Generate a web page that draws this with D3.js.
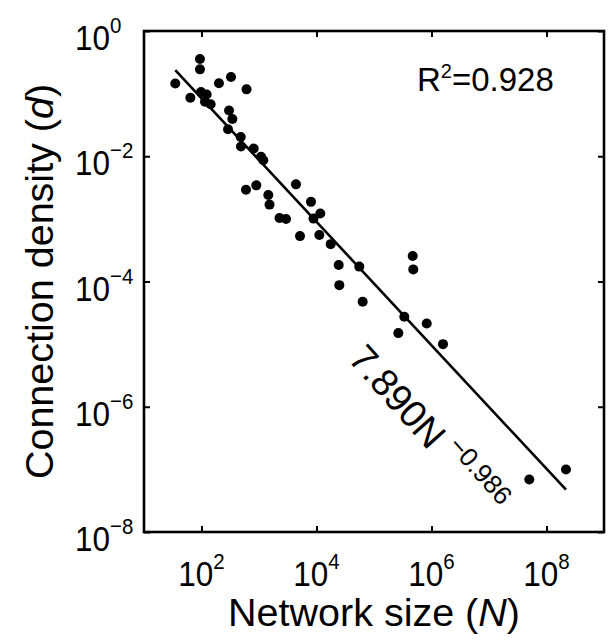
<!DOCTYPE html>
<html><head><meta charset="utf-8">
<script src="https://cdn.jsdelivr.net/npm/d3@7"></script>
<style>
body{margin:0;background:#fff;}
text{font-family:"Liberation Sans",Arial,Helvetica,sans-serif;fill:#000;}
</style>
</head><body>
<svg id="chart" width="608" height="640"></svg>
<script>
// ---- data ----
const networkSize = [35, 64, 94, 94, 98, 115, 123, 144, 201, 326, 607, 301, 344, 289, 481, 486, 809, 1084, 1189,
  594, 897, 1452, 1524, 2275, 2951, 4395, 8017, 11641, 8872, 5164, 11194, 17660, 24322, 24946, 55463, 63533,
  470977, 481948, 336512, 826038, 264850, 1584893, 50233000, 218270000];
const density = [0.145, 0.0861, 0.357, 0.244, 0.106, 0.0743, 0.0968, 0.0675, 0.146, 0.184, 0.117, 0.0537, 0.0393,
  0.0269, 0.0203, 0.0143, 0.0133, 0.00982, 0.00861, 0.00292, 0.00343, 0.00240, 0.00169, 0.00103, 0.000993,
  0.00356, 0.00187, 0.00122, 0.00101, 0.000531, 0.000551, 0.000395, 0.000183, 0.0000875, 0.000173, 0.0000474,
  0.000255, 0.000156, 0.0000273, 0.0000214, 0.0000150, 0.0000100, 6.9e-8, 9.95e-8];
const xTickValues = [1e2, 1e4, 1e6, 1e8];
const xTickExponents = ["2", "4", "6", "8"];
const yTickValues = [1, 1e-2, 1e-4, 1e-6, 1e-8];
const yTickExponents = ["0", "\u22122", "\u22124", "\u22126", "\u22128"];
const fitCoefficient = 7.890;
const fitExponent = -0.986;
const rSquaredText = "0.928";
const formulaMain = "7.890N";
const formulaExp = "\u22120.986";

// ---- layout ----
const svg = d3.select("#chart");
const L = 144, R = 604, T = 31, B = 532;
const x = d3.scaleLog().domain([1e1, 1e9]).range([L, R]);
const y = d3.scaleLog().domain([1e-8, 1]).range([B, T]);
const fit = n => fitCoefficient * Math.pow(n, fitExponent);

// axes (inward ticks on all four sides)
const tk = 6;
function styleAxis(g){ g.select(".domain").remove(); g.selectAll("line").attr("stroke","#000").attr("stroke-width",2); g.selectAll("text").remove(); }
svg.append("g").attr("transform",`translate(0,${B})`).call(d3.axisBottom(x).tickValues(xTickValues).tickSize(-tk).tickFormat("")).call(styleAxis);
svg.append("g").attr("transform",`translate(0,${T})`).call(d3.axisTop(x).tickValues(xTickValues).tickSize(-tk).tickFormat("")).call(styleAxis);
svg.append("g").attr("transform",`translate(${L},0)`).call(d3.axisLeft(y).tickValues(yTickValues).tickSize(-tk).tickFormat("")).call(styleAxis);
svg.append("g").attr("transform",`translate(${R},0)`).call(d3.axisRight(y).tickValues(yTickValues).tickSize(-tk).tickFormat("")).call(styleAxis);

svg.append("rect").attr("x",L).attr("y",T).attr("width",R-L).attr("height",B-T)
  .attr("fill","none").attr("stroke","#000").attr("stroke-width",2.6);

// tick labels
const tickFont = 31.5, expFont = 20.5, sy = 1.12;
xTickValues.forEach((v,i)=>{
  const t = svg.append("text").attr("transform",`translate(${x(v)},${B+54}) scale(1,${sy})`)
    .attr("text-anchor","middle").style("font-size",tickFont+"px");
  t.append("tspan").text("10");
  t.append("tspan").attr("dy",-15).style("font-size",expFont+"px").text(xTickExponents[i]);
});
yTickValues.forEach((v,i)=>{
  const t = svg.append("text").attr("transform",`translate(75,${y(v)+19}) scale(1,${sy})`)
    .style("font-size",tickFont+"px");
  t.append("tspan").text("10");
  t.append("tspan").attr("dy",-15).style("font-size",expFont+"px").text(yTickExponents[i]);
});

// axis titles
const xt = svg.append("text").attr("x",(L+R)/2).attr("y",626).attr("text-anchor","middle").style("font-size","39.5px");
xt.append("tspan").text("Network size (");
xt.append("tspan").style("font-style","italic").text("N");
xt.append("tspan").text(")");

const yt = svg.append("text").attr("transform",`translate(53,${(T+B)/2}) rotate(-90)`).attr("text-anchor","middle").style("font-size","39.5px");
yt.append("tspan").text("Connection density (");
yt.append("tspan").style("font-style","italic").text("d");
yt.append("tspan").text(")");

// fit line
const nExt = d3.extent(networkSize);
svg.append("line")
  .attr("x1", x(nExt[0])).attr("y1", y(fit(nExt[0])))
  .attr("x2", x(nExt[1])).attr("y2", y(fit(nExt[1])))
  .attr("stroke","#000").attr("stroke-width",2.6);

// points
svg.append("g").selectAll("circle").data(networkSize).join("circle")
  .attr("cx", d => x(d)).attr("cy", (d,i) => y(density[i])).attr("r", 5).attr("fill","#000");

// R^2 annotation
const r2 = svg.append("text").attr("x", 417).attr("y", 91).style("font-size","33px");
r2.append("tspan").text("R");
r2.append("tspan").attr("dy",-13).style("font-size","20px").text("2");
r2.append("tspan").attr("dy",13).text("=" + rSquaredText);

// fit formula, rotated along the line
const p1 = [x(nExt[0]), y(fit(nExt[0]))], p2 = [x(nExt[1]), y(fit(nExt[1]))];
const ang = Math.atan2(p2[1]-p1[1], p2[0]-p1[0]) * 180 / Math.PI + 1.3;
const nAnchor = Math.pow(10, 4.53);
const fx = x(nAnchor), fy = y(fit(nAnchor)) + 105;
const ft = svg.append("text").attr("transform",`translate(${fx},${fy}) rotate(${ang})`).style("font-size","38px");
ft.append("tspan").text(formulaMain);
ft.append("tspan").attr("dx",9).attr("dy",-17).style("font-size","26px").text(formulaExp);
</script>
</body></html>
